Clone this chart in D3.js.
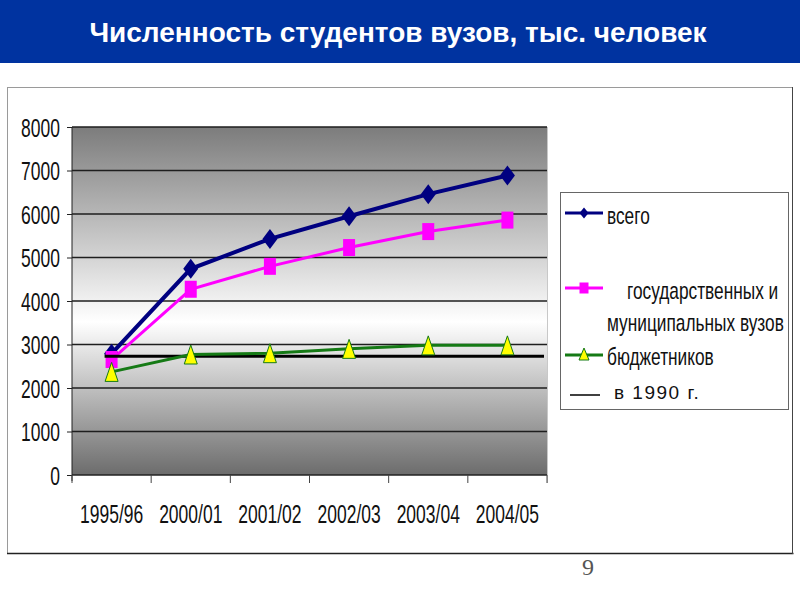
<!DOCTYPE html>
<html>
<head>
<meta charset="utf-8">
<script src="https://cdn.jsdelivr.net/npm/d3@7"></script>
<style>
  html, body { margin: 0; padding: 0; background: #fff; }
  svg { display: block; }
</style>
</head>
<body>
<div id="chart"></div>
<script>
// ---- data ----
const title = "Численность студентов вузов, тыс. человек";
const categories = ["1995/96", "2000/01", "2001/02", "2002/03", "2003/04", "2004/05"];
const totalValues = [2790, 4740, 5427, 5948, 6456, 6884];
const stateValues = [2655, 4270, 4797, 5229, 5596, 5860];
const budgetValues = [2370, 2770, 2800, 2900, 2980, 2980];
const ref1990Value = 2730;
const yTicks = [0, 1000, 2000, 3000, 4000, 5000, 6000, 7000, 8000];
const legendLabels = ["всего", ["государственных и", "муниципальных вузов"], "бюджетников", "в 1990 г."];
const pageNumber = "9";

// ---- layout ----
const W = 800, H = 600;
const plot = { left: 72, right: 547, top: 127, bottom: 475 };
const svg = d3.select("#chart").append("svg").attr("width", W).attr("height", H);

const defs = svg.append("defs");
const grad = defs.append("linearGradient").attr("id", "bg").attr("x1", 0).attr("y1", 0).attr("x2", 0).attr("y2", 1);
grad.append("stop").attr("offset", "0%").attr("stop-color", "#7c7c7c");
grad.append("stop").attr("offset", "56%").attr("stop-color", "#ffffff");
grad.append("stop").attr("offset", "100%").attr("stop-color", "#6c6c6c");

// header
svg.append("rect").attr("x", 0).attr("y", 0).attr("width", W).attr("height", 63).attr("fill", "#0033a0");
svg.append("text").attr("x", 398).attr("y", 42).attr("text-anchor", "middle")
  .attr("fill", "#fff").attr("font-family", "Liberation Sans, Arial, sans-serif")
  .attr("font-weight", "bold").attr("font-size", 28).text(title);

// outer frame
svg.append("rect").attr("x", 7.5).attr("y", 87.5).attr("width", 785).attr("height", 466)
  .attr("fill", "#fff").attr("stroke", "#9a9a9a").attr("stroke-width", 1);
svg.append("line").attr("x1", 7).attr("x2", 793.5).attr("y1", 553.5).attr("y2", 553.5).attr("stroke", "#222").attr("stroke-width", 1.5);
svg.append("line").attr("x1", 792.5).attr("x2", 792.5).attr("y1", 87).attr("y2", 554).attr("stroke", "#444").attr("stroke-width", 1);

// scales
const x = d3.scaleBand().domain(categories).range([plot.left, plot.right]).padding(0);
const y = d3.scaleLinear().domain([0, 8000]).range([plot.bottom, plot.top]);
const cx = d => x(d) + x.bandwidth() / 2;

// plot background
svg.append("rect").attr("x", plot.left).attr("y", plot.top)
  .attr("width", plot.right - plot.left).attr("height", plot.bottom - plot.top).attr("fill", "url(#bg)");

// gridlines
svg.append("g").selectAll("line").data(yTicks.filter(t => t > 0)).join("line")
  .attr("x1", plot.left).attr("x2", plot.right)
  .attr("y1", d => y(d)).attr("y2", d => y(d))
  .attr("stroke", "#1e1e1e").attr("stroke-width", 1.3);

// plot right border
svg.append("line").attr("x1", plot.right + 0.5).attr("x2", plot.right + 0.5)
  .attr("y1", plot.top).attr("y2", plot.bottom + 8).attr("stroke", "#c8c8c8");

const axisFont = "Liberation Sans, Arial, sans-serif";

// y axis
const yAxis = svg.append("g").attr("transform", `translate(${plot.left},0)`)
  .call(d3.axisLeft(y).tickValues(yTicks).tickSize(5).tickFormat(d3.format("d")).tickPadding(7));
yAxis.select(".domain").attr("stroke", "#222").attr("d", `M-0,${plot.top}V${plot.bottom + 6}`);
yAxis.selectAll(".tick line").attr("stroke", "#222");
yAxis.selectAll(".tick text").attr("font-family", axisFont).attr("font-size", 25)
  .attr("fill", "#111").attr("dy", "0.36em")
  .attr("transform", function () { const xx = +d3.select(this).attr("x"); return `translate(${xx * 0.3},0) scale(0.70,1)`; });

// x axis
svg.append("line").attr("x1", plot.left).attr("x2", plot.right).attr("y1", plot.bottom).attr("y2", plot.bottom)
  .attr("stroke", "#222").attr("stroke-width", 1.3);
const bounds = categories.map(c => x(c)).concat([plot.right]);
svg.append("g").selectAll("line").data(bounds).join("line")
  .attr("x1", d => d).attr("x2", d => d).attr("y1", plot.bottom).attr("y2", plot.bottom + 8)
  .attr("stroke", "#444");
svg.append("g").selectAll("text").data(categories).join("text")
  .attr("transform", d => `translate(${cx(d)},${plot.bottom + 48}) scale(0.70,1)`)
  .attr("text-anchor", "middle").attr("font-family", axisFont).attr("font-size", 25).attr("fill", "#111")
  .text(d => d);

// line generator
const line = d3.line().x((d, i) => cx(categories[i])).y(d => y(d));

// markers
const diamond = (w, h) => `M0,${-h / 2}L${w / 2},0L0,${h / 2}L${-w / 2},0Z`;
const square = (w, h) => `M${-w / 2},${-h / 2}h${w}v${h}h${-w}Z`;
const tri = (w, h) => `M0,${-h / 2}L${w / 2},${h / 2}L${-w / 2},${h / 2}Z`;

// total
svg.append("path").datum(totalValues).attr("d", line).attr("fill", "none").attr("stroke", "#000080").attr("stroke-width", 4);
svg.append("g").selectAll("path").data(totalValues).join("path")
  .attr("transform", (d, i) => `translate(${cx(categories[i])},${y(d)})`)
  .attr("d", diamond(15, 20)).attr("fill", "#000080");

// state
svg.append("path").datum(stateValues).attr("d", line).attr("fill", "none").attr("stroke", "#ff00ff").attr("stroke-width", 3);
svg.append("g").selectAll("path").data(stateValues).join("path")
  .attr("transform", (d, i) => `translate(${cx(categories[i])},${y(d)})`)
  .attr("d", square(12, 17)).attr("fill", "#ff00ff");

// 1990 reference
svg.append("line").attr("x1", cx(categories[0]) - 7).attr("x2", plot.right - 3)
  .attr("y1", y(ref1990Value)).attr("y2", y(ref1990Value)).attr("stroke", "#000").attr("stroke-width", 3);

// budget
svg.append("path").datum(budgetValues).attr("d", line).attr("fill", "none").attr("stroke", "#157a15").attr("stroke-width", 3);
svg.append("g").selectAll("path").data(budgetValues).join("path")
  .attr("transform", (d, i) => `translate(${cx(categories[i])},${y(d)})`)
  .attr("d", tri(13, 19)).attr("fill", "#ffff00").attr("stroke", "#157a15").attr("stroke-width", 1);

// legend
const lg = svg.append("g");
lg.append("rect").attr("x", 560.5).attr("y", 192.5).attr("width", 228).attr("height", 217)
  .attr("fill", "#fff").attr("stroke", "#666");
function legText(tx, ty, s) {
  lg.append("text").attr("transform", `translate(${tx},${ty}) scale(0.72,1)`)
    .attr("font-family", axisFont).attr("font-size", 24).attr("fill", "#111").text(s);
}
// всего
lg.append("line").attr("x1", 565).attr("x2", 603).attr("y1", 213).attr("y2", 213).attr("stroke", "#000080").attr("stroke-width", 3);
lg.append("path").attr("transform", "translate(584,213)").attr("d", diamond(9, 11)).attr("fill", "#000080");
legText(607, 224, legendLabels[0]);
// state
lg.append("line").attr("x1", 565).attr("x2", 603).attr("y1", 288).attr("y2", 288).attr("stroke", "#ff00ff").attr("stroke-width", 3);
lg.append("path").attr("transform", "translate(584,288)").attr("d", square(9, 11)).attr("fill", "#ff00ff");
legText(627, 299, legendLabels[1][0]);
legText(607, 331, legendLabels[1][1]);
// budget
lg.append("line").attr("x1", 565).attr("x2", 603).attr("y1", 355).attr("y2", 355).attr("stroke", "#157a15").attr("stroke-width", 3);
lg.append("path").attr("transform", "translate(584,354)").attr("d", tri(10, 12)).attr("fill", "#ffff00").attr("stroke", "#157a15");
legText(607, 365, legendLabels[2]);
// 1990
lg.append("line").attr("x1", 570).attr("x2", 600).attr("y1", 395).attr("y2", 395).attr("stroke", "#000").attr("stroke-width", 1.5);
lg.append("text").attr("x", 614).attr("y", 399).attr("font-family", "Liberation Sans, Arial, sans-serif")
  .attr("font-size", 19).attr("letter-spacing", 1.5).attr("fill", "#111").text(legendLabels[3]);

// page number
svg.append("text").attr("x", 588).attr("y", 575).attr("text-anchor", "middle")
  .attr("font-family", "Liberation Serif, Times New Roman, serif").attr("font-size", 24).attr("fill", "#555").text(pageNumber);
</script>
</body>
</html>
